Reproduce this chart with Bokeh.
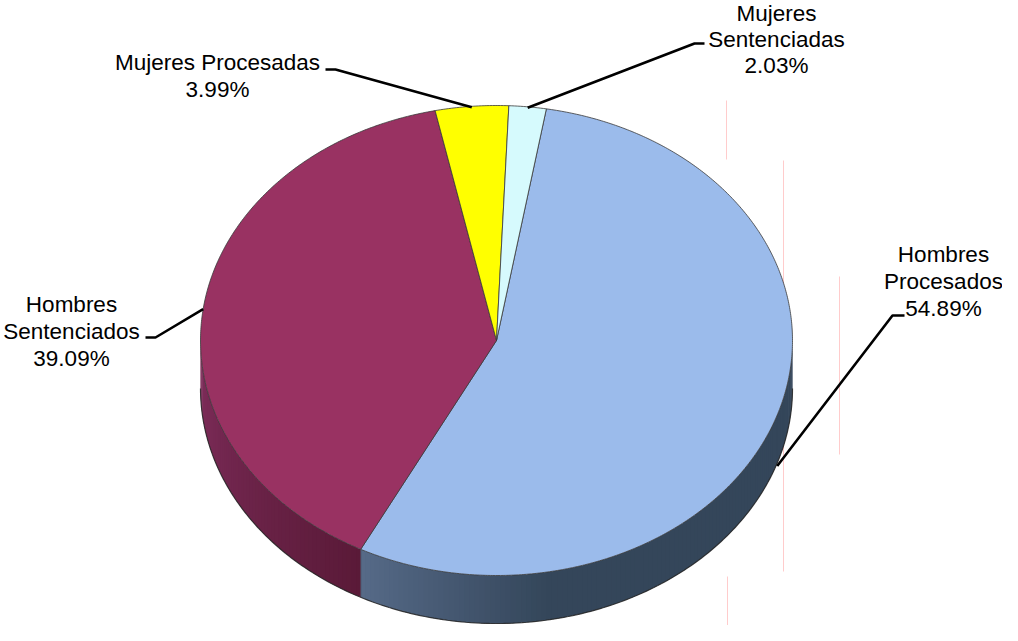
import numpy as np
from bokeh.plotting import figure
from bokeh.models import Range1d
from bokeh.core.properties import value
from bokeh.embed import file_html
from bokeh.resources import INLINE

# ---------------- data ----------------
categories = ["Hombres Procesados", "Hombres Sentenciados",
              "Mujeres Procesadas", "Mujeres Sentenciadas"]
shares = [54.89, 39.09, 3.99, 2.03]
top_colors = ["#9bbbeb", "#993262", "#ffff00", "#d6fafd"]
label_lines = [["Hombres", "Procesados"], ["Hombres", "Sentenciados"],
               ["Mujeres Procesadas"], ["Mujeres", "Sentenciadas"]]

# ---------------- layout ----------------
W, H = 1002, 625
YOFF = 6
CX, CY, RX, RY, DEPTH = 504, 354, 296, 235, 48
START = 9.7            # first slice angle, degrees clockwise from top
FONT = "Liberation Sans"
FS = "22.5px"
# label block: (center x, first line y, line step, elbow end x, elbow x, elbow y, anchor dy)
label_layout = [
    (951, 268, 27, 912, 900, 329, 51),
    (79, 318, 27, 153, 163, 351, 0),
    (225, 76, 27, 333, 343, 83, 1),
    (784, 27, 26, 712, 702, 57, 1),
]

p = figure(width=W, height=H, x_range=Range1d(8, 8 + W),
           y_range=Range1d(8 + H + YOFF, 8 + YOFF),
           output_backend="svg", toolbar_location=None, min_border=0,
           x_axis_type=None, y_axis_type=None)
p.grid.visible = False
p.outline_line_color = None
p.background_fill_color = "white"
p.border_fill_color = "white"


def pt(theta, dy=0.0):
    t = np.radians(theta)
    return CX + RX * np.sin(t), CY - RY * np.cos(t) + dy


def lerp_color(c1, c2, f):
    f = min(max(f, 0.0), 1.0)
    a = [int(c1[i:i + 2], 16) for i in (1, 3, 5)]
    b = [int(c2[i:i + 2], 16) for i in (1, 3, 5)]
    return "#%02x%02x%02x" % tuple(int(round(a[k] + (b[k] - a[k]) * f)) for k in range(3))


total = sum(shares)
bounds = []
a0 = START
for s in shares:
    a1 = a0 + s / total * 360.0
    bounds.append((a0, a1))
    a0 = a1

# faint artifact lines (pink) seen in the reference
for x, y0, y1 in [(734, 114, 173), (791, 174, 585), (847, 290, 468), (735, 590, 640)]:
    p.segment(x0=[x], y0=[y0], x1=[x], y1=[y1], line_color="#ffcccc", line_width=1)

# ---------------- side (depth) ----------------
def side_color(i, th):
    if i == 0:   # Hombres Procesados side
        return lerp_color("#34465a", "#566a88", (th - 170) / (bounds[0][1] - 170))
    else:        # Hombres Sentenciados side
        return lerp_color("#5a1a38", "#802e5c", (th - bounds[1][0]) / (270 - bounds[1][0]))


xs_all, ys_all, cols = [], [], []
for i, (a, b) in enumerate(bounds):
    lo, hi = max(a, 90.0), min(b, 270.0)
    if hi <= lo:
        continue
    n = max(2, int((hi - lo) / 1.0))
    edges = np.linspace(lo, hi, n + 1)
    for k in range(n):
        t0 = edges[k]
        t1 = min(edges[k + 1] + 0.8, hi)
        ts = np.linspace(t0, t1, 4)
        xt, yt = pt(ts)
        xb, yb = pt(ts[::-1], DEPTH)
        xs_all.append(list(xt) + list(xb))
        ys_all.append(list(yt) + list(yb))
        cols.append(side_color(i, (edges[k] + edges[k + 1]) / 2))
p.patches(xs=xs_all, ys=ys_all, fill_color=cols, line_color=None)

tb = np.linspace(90, 270, 200)
xb, yb = pt(tb, DEPTH)
p.line(list(xb), list(yb), line_color="#262626", line_width=1.2, line_alpha=0.85)
bx0, by0 = pt(bounds[0][1])
bx1, by1 = pt(bounds[0][1], DEPTH)
p.line([bx0, bx1], [by0, by1], line_color="#2a2a3a", line_width=0.8, line_alpha=0.7)

# ---------------- top face ----------------
txs, tys = [], []
for a, b in bounds:
    ts = np.linspace(a, b, max(3, int((b - a) * 2)))
    xt, yt = pt(ts)
    txs.append([CX] + list(xt))
    tys.append([CY] + list(yt))
p.patches(xs=txs, ys=tys, fill_color=top_colors, line_color="#3a3a3a",
          line_width=1, line_alpha=0.8, line_join="round")

# ---------------- labels + leader lines ----------------
for i, (a, b) in enumerate(bounds):
    cx_l, y_first, step, ex, elx, ely, ady = label_layout[i]
    mid = (a + b) / 2.0
    ax, ay = pt(mid, ady)
    p.line([ex, elx, ax], [ely, ely, ay], line_color="black", line_width=2.6)
    lines = label_lines[i] + ["%.2f%%" % shares[i]]
    p.text(x=[cx_l] * len(lines), y=[y_first + step * k for k in range(len(lines))],
           text=lines, text_align="center", text_baseline="middle",
           text_font=value(FONT), text_font_size=FS, text_color="black")

open("out.html", "w").write(file_html(p, INLINE))
